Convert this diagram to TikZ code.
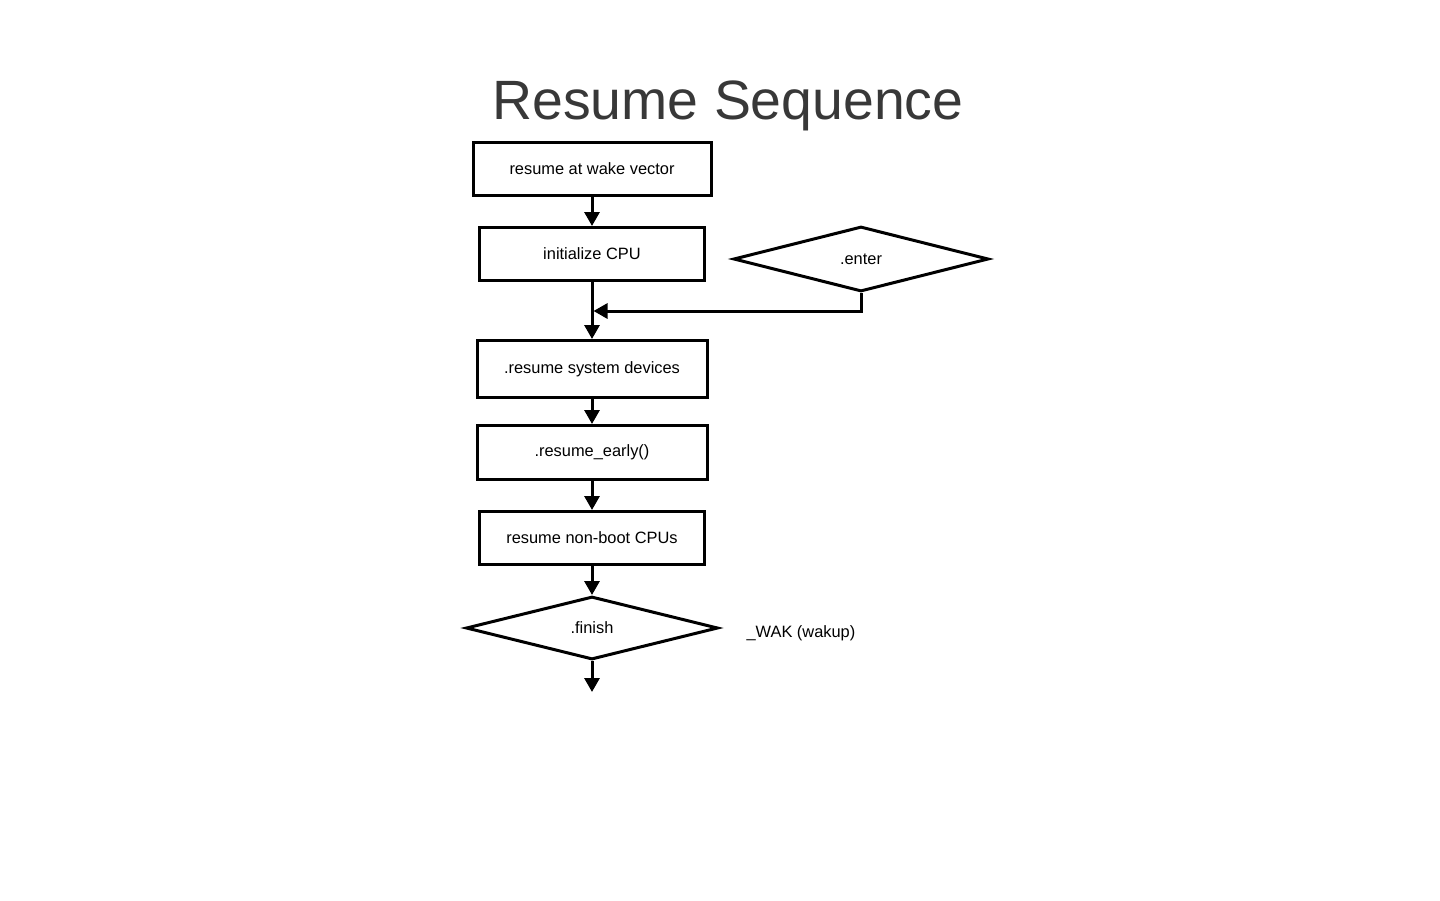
\documentclass[tikz,border=0pt]{standalone}
\usepackage{fontspec}
\setmainfont{Liberation Sans}
\usetikzlibrary{positioning,arrows.meta,shapes.geometric}
\definecolor{TitleGray}{RGB}{56,56,56}

\begin{document}
\begin{tikzpicture}[x=0.5pt,y=-0.5pt,every node/.style={font=\fontsize{8.2}{10}\selectfont},
    stepbox/.style={draw,line width=1.5pt,minimum height=26.5pt,inner sep=2pt},
    choice/.style={draw,diamond,line width=1.5pt,inner sep=0pt},
    flow/.style={-{Triangle[length=7pt,width=7.5pt]},line width=1.5pt}]
        \useasboundingbox (0,0) rectangle (1440,900);
        \node[font=\fontsize{27.7}{32}\selectfont,text=TitleGray] (title) at (728,106) {Resume Sequence};
        \node[stepbox,minimum width=119pt] (wake) at (592,169) {resume at wake vector};
        \node[stepbox,minimum width=112.5pt,below=14.5pt of wake] (cpu) {initialize CPU};
        \node[choice,minimum width=127.5pt,minimum height=32.5pt,right=13pt of cpu,yshift=-2.5pt] (enter) {.enter};
        \node[stepbox,minimum width=115pt,minimum height=28.5pt,below=28.5pt of cpu] (sysdev) {.resume system devices};
        \node[stepbox,minimum width=115pt,minimum height=27pt,below=12.5pt of sysdev] (early) {.resume\_early()};
        \node[stepbox,minimum width=112.5pt,below=14.5pt of early] (nonboot) {resume non-boot CPUs};
        \node[choice,minimum width=126pt,minimum height=31.5pt,below=14.5pt of nonboot] (finish) {.finish};
        \node[right=10pt of finish,yshift=-2.5pt] (wak) {\_WAK (wakup)};
        \coordinate (lvl) at (0,311);
        \coordinate (join) at (cpu.south |- lvl);
        \coordinate[below=15.5pt of finish.south] (exit);
        \draw[flow] (wake) -- (cpu);
        \draw[flow] (cpu) -- (sysdev);
        \draw[flow,shorten >=0.75pt] (enter.south) |- (join);
        \draw[flow] (sysdev) -- (early);
        \draw[flow] (early) -- (nonboot);
        \draw[flow] (nonboot) -- (finish);
        \draw[flow] (finish) -- (exit);
      \end{tikzpicture}
\end{document}
